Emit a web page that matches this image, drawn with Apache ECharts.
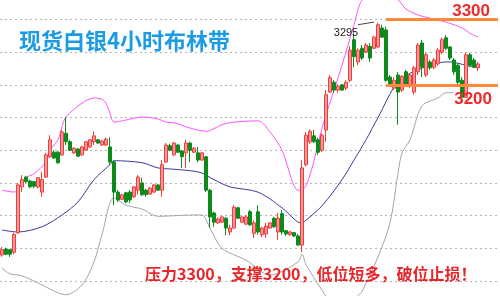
<!DOCTYPE html>
<html><head><meta charset="utf-8">
<script src="https://cdn.jsdelivr.net/npm/echarts@6/dist/echarts.min.js"></script>
<style>html,body{margin:0;padding:0;background:#fff}#c{width:500px;height:296px}</style>
</head><body><div id="c"></div>
<script>
// ---- data ----
const categories = Array.from({length:125}, (_, i) => 'K' + (i + 1));
const opens = [2940,2949,2948,2944,2974,3044,3059,3053,3052,3044, 3036,3059,3090,3097,3097,3093,3126,3113,3096,3102, 3093,3100,3105,3113,3116,3108,3108,3105,3082,3036, 3025,3035,3036,3029,3039,3050,3039,3033,3036,3047, 3039,3082,3107,3093,3108,3099,3096,3111,3097,3096, 3085,3090,3039,3004,2989,2990,2996,2975,2981,3012, 2990,2987,3006,2973,3006,2971,2972,2981,2996,2975, 3003,2977,2971,2974,2969,2955,3078,3113,3122,3116, 3100,3131,3189,3204,3192,3200,3195,3207,3269,3235, 3256,3250,3259,3256,3258,3287,3284,3212,3195,3215, 3192,3220,3198,3189,3220,3264,3215,3235,3227,3232, 3250,3272,3258,3238,3230,3207,3181,3246,3238,3226];
const closes = [2948,2941,2941,2971,3047,3055,3052,3044,3045,3058, 3055,3093,3116,3088,3081,3128,3113,3100,3103,3091, 3105,3113,3116,3122,3111,3114,3117,3082,3036,3024, 3032,3021,3024,3044,3059,3032,3032,3042,3047,3039, 3078,3108,3100,3111,3097,3090,3111,3100,3103,3085, 3096,3039,2998,2990,2995,2998,2981,2981,3013,2996, 2998,2998,2986,2989,2975,2981,2984,2989,2983,2996, 2975,2972,2975,2969,2955,3073,3123,3129,3113,3097, 3123,3185,3211,3192,3198,3192,3204,3253,3243,3253, 3241,3261,3241,3273,3292,3273,3207,3200,3207,3189, 3213,3201,3215,3226,3261,3227,3246,3226,3238,3253, 3269,3256,3241,3220,3204,3181,3246,3230,3227,3232];
const highs = [2952,2951,2949,2974,3050,3062,3061,3055,3053,3059, 3067,3096,3123,3100,3099,3131,3151,3116,3105,3103, 3107,3114,3117,3129,3117,3116,3119,3120,3085,3039, 3033,3036,3039,3045,3062,3058,3041,3044,3048,3048, 3085,3111,3110,3113,3110,3100,3116,3113,3105,3105, 3097,3091,3041,3006,2997,2999,2998,2986,3016,3013, 2999,3001,3009,2993,3016,2983,2989,2990,2998,3004, 3009,2978,2977,2975,2972,3085,3128,3132,3131,3119, 3126,3192,3215,3207,3201,3201,3207,3259,3279,3256, 3261,3264,3264,3275,3295,3292,3289,3215,3212,3220, 3215,3223,3218,3229,3264,3269,3249,3238,3241,3256, 3272,3276,3259,3241,3233,3212,3249,3249,3241,3235];
const lows = [2937,2940,2937,2941,2972,3036,3050,3042,3042,3042, 3029,3058,3088,3087,3079,3091,3108,3099,3094,3090, 3091,3099,3104,3108,3110,3107,3107,3078,3016,3021, 3024,3019,3019,3027,3032,3030,3029,3032,3035,3038, 3029,3081,3099,3091,3096,3073,3073,3082,3096,3082, 3084,3036,2981,2983,2987,2989,2970,2970,2980,2995, 2989,2986,2984,2966,2971,2967,2966,2980,2981,2963, 2971,2969,2969,2967,2954,2944,3075,3110,3111,3093, 3097,3113,3188,3188,3188,3191,3192,3204,3227,3230, 3238,3249,3235,3255,3256,3272,3204,3198,3192,3139, 3189,3200,3195,3185,3215,3212,3212,3223,3224,3229, 3247,3253,3238,3215,3201,3180,3180,3227,3226,3221];
// Bollinger bands as [candle index, value]
const upperBand = [[0,3039],[3,3036],[6,3058],[8,3064],[11,3082],[12,3100],[14,3116],[15,3136],[16,3151],[20,3172],[23,3180],[25,3178],[26,3172],[27,3157],[28,3143],[33,3149],[35,3151],[39,3148],[41,3143],[43,3142],[47,3134],[51,3129],[55,3139],[58,3143],[64,3145],[67,3128],[70,3100],[74,3039],[75,3039],[77,3062],[80,3134],[81,3154],[85,3230],[88,3292],[90,3330],[94,3348],[99,3330],[101,3316],[104,3307],[107,3302],[111,3296],[115,3287],[117,3279],[119,3273]];
const midBand = [[0,2978],[4,2975],[10,2983],[15,3001],[19,3021],[23,3055],[27,3078],[28,3084],[35,3081],[39,3073],[43,3071],[48,3068],[50,3065],[53,3055],[57,3044],[64,3036],[70,3012],[74,2990],[75,2989],[76,2993],[80,3015],[85,3055],[88,3085],[91,3116],[94,3150],[99,3205],[104,3223],[111,3235],[112,3235],[116,3230],[119,3226]];
const lowBand = [[0,2920],[2,2911],[5,2908],[10,2894],[14,2882],[16,2879],[20,2894],[23,2929],[25,2971],[28,3027],[31,3016],[35,3010],[39,2999],[48,3001],[50,3001],[52,2981],[55,2950],[61,2932],[67,2909],[74,2929],[75,2941],[76,2925],[80,2886],[81,2877],[85,2855],[89,2878],[90,2884],[94,2937],[97,2989],[99,3065],[100,3096],[102,3116],[105,3168],[109,3180],[111,3188],[113,3188]];
const resistance = 3300, support = 3200, peakValue = 3295;
const titleText = '现货白银4小时布林带';
const noteText = '压力3300，支撑3200，低位短多，破位止损！';
const yRange = {min: 2877.1, max: 3329.8, step: 50};

const kdata = opens.map((o, i) => [o, closes[i], lows[i], highs[i]]);

const chart = echarts.init(document.getElementById('c'), null, {renderer: 'canvas'});
chart.setOption({
  animation: false,
  backgroundColor: '#ffffff',
  title: [
    {text: titleText, left: 14, top: 25, textStyle: {color: '#1a9be3', fontSize: 22, fontWeight: 'bold', fontFamily: '"Noto Sans CJK SC", sans-serif'}},
    {text: noteText, left: 140, top: 261, textStyle: {color: '#e8262a', fontSize: 16, fontWeight: 'bold', fontFamily: '"Noto Sans CJK SC", sans-serif'}}
  ],
  grid: {left: 0, right: 0, top: 0, bottom: 0},
  xAxis: {type: 'category', data: categories, boundaryGap: true, show: false},
  yAxis: {type: 'value', min: yRange.min, max: yRange.max, minInterval: yRange.step, maxInterval: yRange.step,
    axisLabel: {show: false}, axisLine: {show: false}, axisTick: {show: false},
    splitLine: {show: true, showMinLine: false, showMaxLine: false, lineStyle: {color: '#b4b4b4', type: [2, 3], width: 1}}},
  series: [
    {type: 'line', data: upperBand, smooth: 0.3, symbol: 'none', lineStyle: {color: '#ff55ff', width: 1}, z: 1},
    {type: 'line', data: midBand, smooth: 0.3, symbol: 'none', lineStyle: {color: '#3c3c9c', width: 1}, z: 1},
    {type: 'line', data: lowBand, smooth: 0.3, symbol: 'none', lineStyle: {color: '#a6a6a6', width: 1}, z: 1},
    {type: 'candlestick', data: kdata, barWidth: 3, z: 2,
      itemStyle: {color: '#fb9a9a', borderColor: '#f23c3c', color0: '#0d8a1c', borderColor0: '#0d8a1c', borderWidth: 1},
      markLine: {silent: true, symbol: 'none', animation: false,
        lineStyle: {color: '#ff8a3b', width: 3, type: 'solid'},
        data: [
          [{coord: [96, resistance], label: {show: true, position: 'insideEndTop', formatter: String(resistance), color: '#ee2a2a', fontSize: 17, fontWeight: 'bold', fontFamily: 'Arial, "Liberation Sans", sans-serif', distance: [8, 0]}}, {coord: [124, resistance]}],
          [{coord: [96, support], label: {show: true, position: 'insideEndBottom', formatter: String(support), color: '#ee2a2a', fontSize: 17, fontWeight: 'bold', fontFamily: 'Arial, "Liberation Sans", sans-serif', distance: [6, 6]}}, {coord: [124, support]}],
          [{coord: [89, 3292], lineStyle: {color: '#444', width: 1}, label: {show: false}}, {coord: [93, 3296]}]
        ]},
      markPoint: {silent: true, symbol: 'rect', symbolSize: 1, itemStyle: {color: 'rgba(0,0,0,0)'},
        data: [{coord: [85.5, 3279], value: peakValue,
          label: {show: true, position: 'inside', formatter: String(peakValue), color: '#222', fontSize: 11, fontFamily: 'Arial, "Liberation Sans", sans-serif'}}]}
    }
  ]
});
</script></body></html>
